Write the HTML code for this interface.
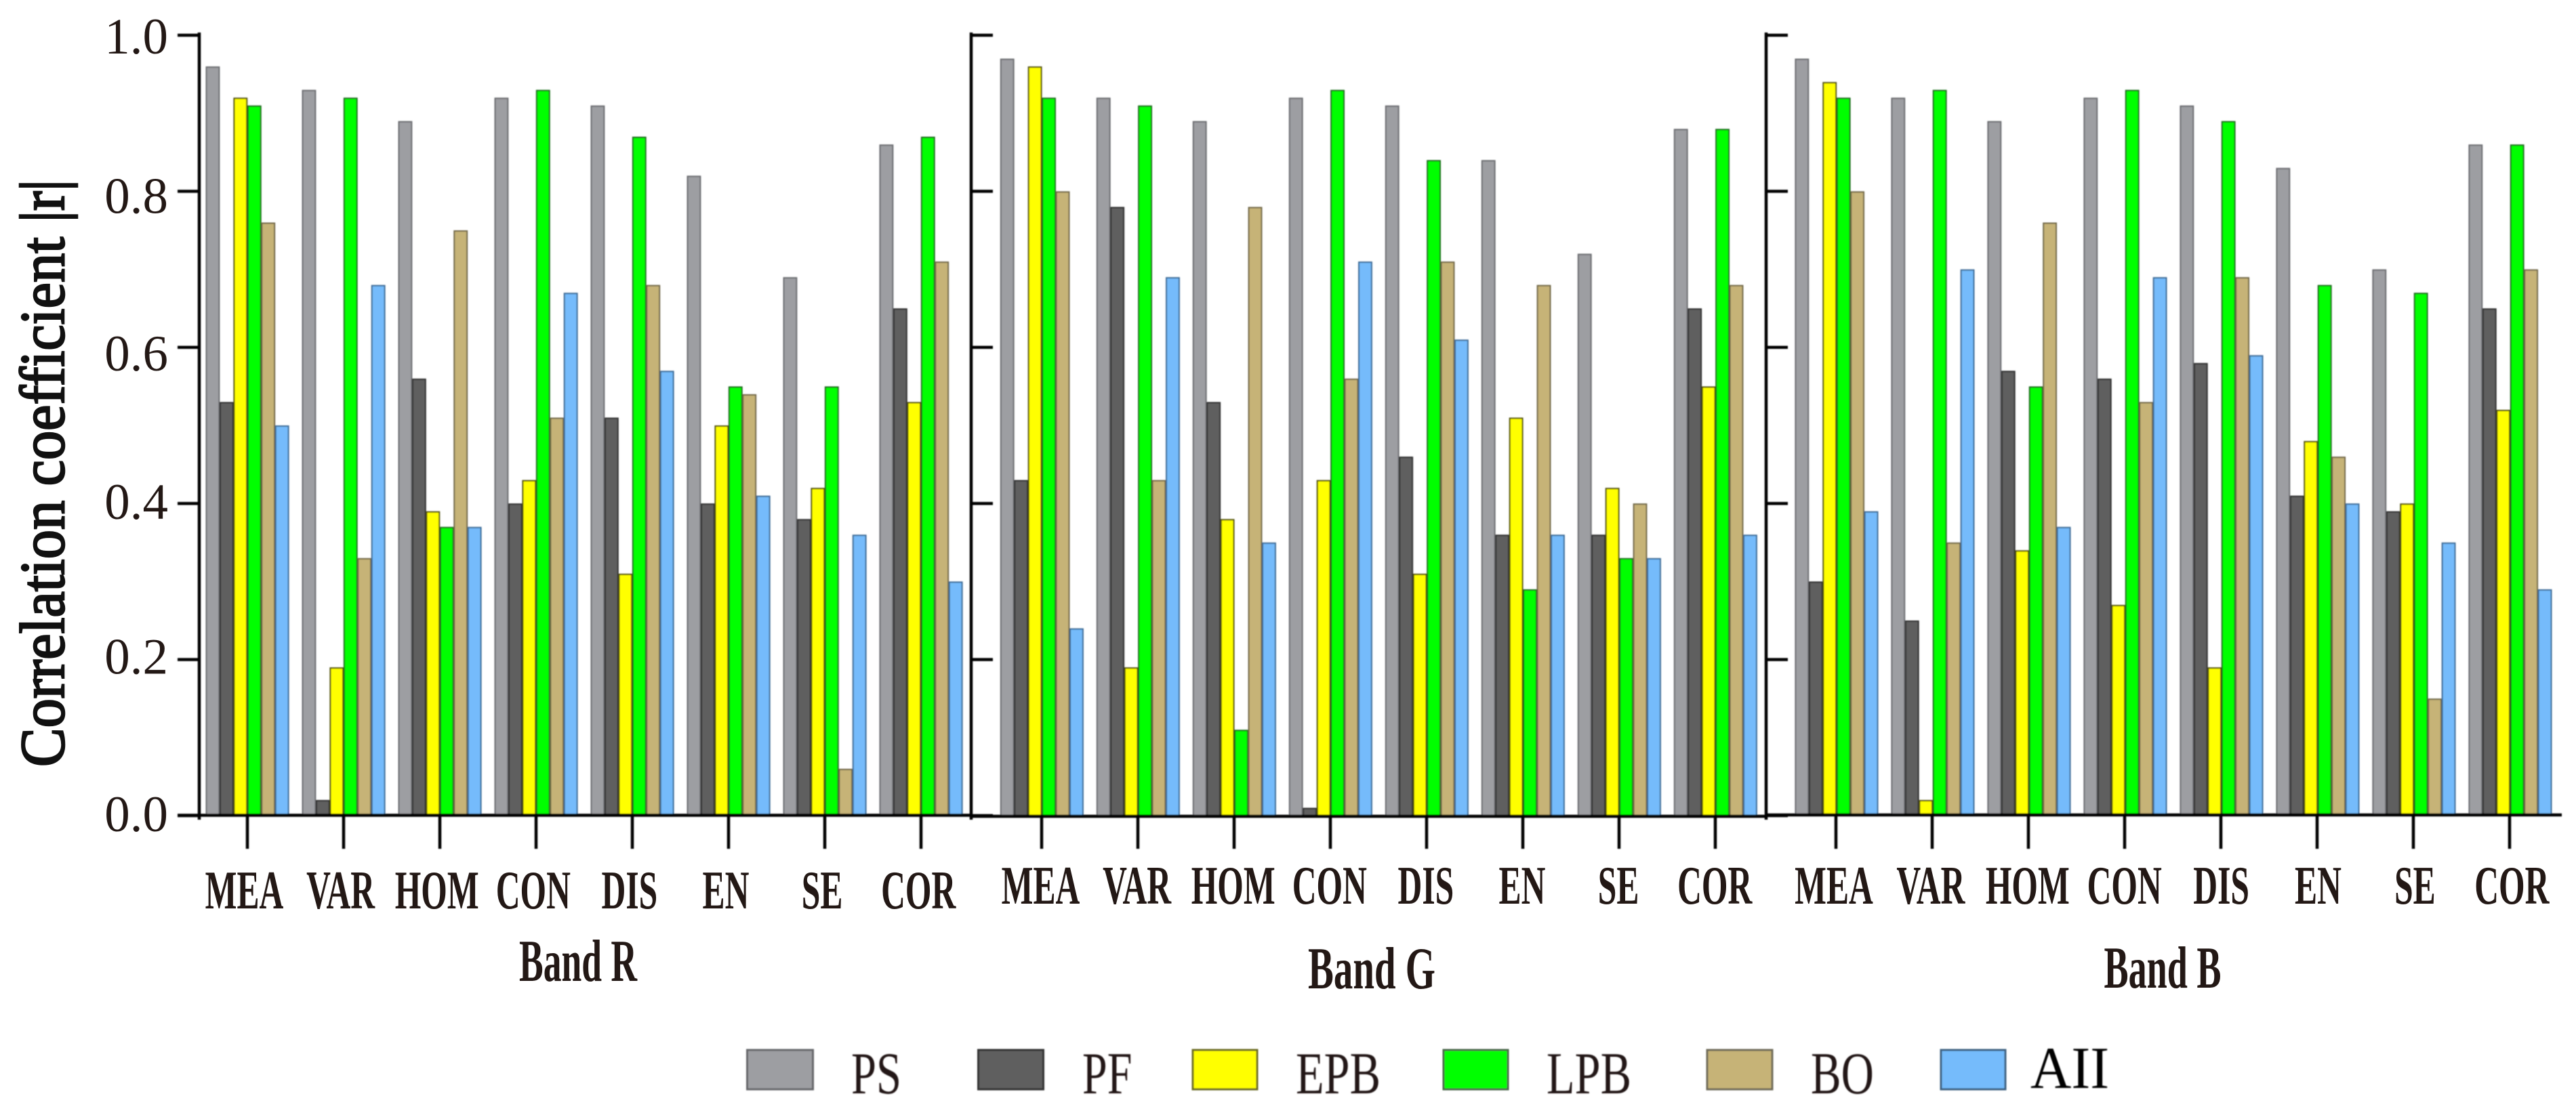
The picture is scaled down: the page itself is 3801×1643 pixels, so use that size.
<!DOCTYPE html>
<html lang="en">
<head>
<meta charset="utf-8">
<title>Correlation coefficient by band</title>
<style>
html,body{margin:0;padding:0;background:#fff}
svg{display:block}
text{font-family:"Liberation Serif",serif;fill:#231815}
</style>
</head>
<body>
<svg id="chart" xmlns="http://www.w3.org/2000/svg" width="3801" height="1643" viewBox="0 0 3801 1643">
<defs><filter id="soft" x="-2%" y="-2%" width="104%" height="104%"><feGaussianBlur stdDeviation="0.8"/></filter></defs>
<rect width="3801" height="1643" fill="#fff"/>
<g id="plot" filter="url(#soft)"></g>
<text transform="translate(94,1132) rotate(-90)" font-size="93" textLength="867" lengthAdjust="spacingAndGlyphs" style="fill:#111;stroke:#111;stroke-width:2.6">Correlation coefficient |r|</text>
<g filter="url(#soft)">
  <g><rect x="1102.5" y="1550" width="97" height="58" fill="#9d9ea2" stroke="#66676a" stroke-width="3"/><text transform="translate(1256,1614) scale(.756,1)" font-size="88">PS</text></g>
  <g><rect x="1443.5" y="1550" width="96" height="58" fill="#5f5f5f" stroke="#333" stroke-width="3"/><text transform="translate(1597,1614) scale(.75,1)" font-size="88">PF</text></g>
  <g><rect x="1760" y="1550" width="95" height="58" fill="#ffff00" stroke="#6b6b20" stroke-width="3"/><text transform="translate(1912,1614) scale(.775,1)" font-size="88">EPB</text></g>
  <g><rect x="2130" y="1550" width="95" height="58" fill="#00ff00" stroke="#4a664a" stroke-width="3"/><text transform="translate(2282,1614) scale(.775,1)" font-size="88">LPB</text></g>
  <g><rect x="2519" y="1550" width="96" height="58" fill="#c6b377" stroke="#6e6a58" stroke-width="3"/><text transform="translate(2672,1614) scale(.76,1)" font-size="88">BO</text></g>
  <g><rect x="2864" y="1550" width="95" height="58" fill="#75bbfb" stroke="#3d6080" stroke-width="3"/><text transform="translate(2996,1606) scale(.95,1)" font-size="88" style="fill:#000">AII</text></g>
</g>
</svg>
<script>
const categories = ['MEA','VAR','HOM','CON','DIS','EN','SE','COR'];
const seriesNames = ['PS','PF','EPB','LPB','BO','AII'];
const yTickValues = [0,0.2,0.4,0.6,0.8,1.0];
const yTickLabels = ['0.0','0.2','0.4','0.6','0.8','1.0'];

const bandRPS  = [0.96,0.93,0.89,0.92,0.91,0.82,0.69,0.86];
const bandRPF  = [0.53,0.02,0.56,0.40,0.51,0.40,0.38,0.65];
const bandREPB = [0.92,0.19,0.39,0.43,0.31,0.50,0.42,0.53];
const bandRLPB = [0.91,0.92,0.37,0.93,0.87,0.55,0.55,0.87];
const bandRBO  = [0.76,0.33,0.75,0.51,0.68,0.54,0.06,0.71];
const bandRAII = [0.50,0.68,0.37,0.67,0.57,0.41,0.36,0.30];

const bandGPS  = [0.97,0.92,0.89,0.92,0.91,0.84,0.72,0.88];
const bandGPF  = [0.43,0.78,0.53,0.01,0.46,0.36,0.36,0.65];
const bandGEPB = [0.96,0.19,0.38,0.43,0.31,0.51,0.42,0.55];
const bandGLPB = [0.92,0.91,0.11,0.93,0.84,0.29,0.33,0.88];
const bandGBO  = [0.80,0.43,0.78,0.56,0.71,0.68,0.40,0.68];
const bandGAII = [0.24,0.69,0.35,0.71,0.61,0.36,0.33,0.36];

const bandBPS  = [0.97,0.92,0.89,0.92,0.91,0.83,0.70,0.86];
const bandBPF  = [0.30,0.25,0.57,0.56,0.58,0.41,0.39,0.65];
const bandBEPB = [0.94,0.02,0.34,0.27,0.19,0.48,0.40,0.52];
const bandBLPB = [0.92,0.93,0.55,0.93,0.89,0.68,0.67,0.86];
const bandBBO  = [0.80,0.35,0.76,0.53,0.69,0.46,0.15,0.70];
const bandBAII = [0.39,0.70,0.37,0.69,0.59,0.40,0.35,0.29];

const seriesFill = ['#9d9ea2','#5f5f5f','#ffff00','#00ff00','#c6b377','#75bbfb'];
const seriesStroke = ['#6b6c70','#2e2e2e','#4f4f10','#1f6a1f','#6f6646','#3d6a95'];

const panels = [
  {name:'Band R', key:'band-r', values:[bandRPS,bandRPF,bandREPB,bandRLPB,bandRBO,bandRAII],
   axisX:294, axisEnd:1433, lineY:1203.5, firstBar:303.5, firstTick:365, labelFirst:360.5, labelStep:142.1, labelBase:1341, titleX:853, titleBase:1448, titleLen:174, tickDir:-1},
  {name:'Band G', key:'band-g', values:[bandGPS,bandGPF,bandGEPB,bandGLPB,bandGBO,bandGAII],
   axisX:1433, axisEnd:2606, lineY:1205, firstBar:1475.8, firstTick:1537, labelFirst:1535.5, labelStep:142.1, labelBase:1334, titleX:2024, titleBase:1459, titleLen:188, tickDir:1},
  {name:'Band B', key:'band-b', values:[bandBPS,bandBPF,bandBEPB,bandBLPB,bandBBO,bandBAII],
   axisX:2606, axisEnd:3780, lineY:1203, firstBar:2648.4, firstTick:2709, labelFirst:2706, labelStep:142.9, labelBase:1334, titleX:3191, titleBase:1458, titleLen:173, tickDir:1}
];

const SVGNS = 'http://www.w3.org/2000/svg';
const plot = document.getElementById('plot');
const root = document.getElementById('chart');
const Y0 = 1204, YSCALE = 1152, GROUP_STEP = 142, BAR_W = 20.45;
const yLabelDrop = [23,21,23,34,32,27];
function yPos(v){ return Y0 - v * YSCALE; }
function barX(panel, c, s){ return panel.firstBar + c * GROUP_STEP + s * BAR_W; }
function tickX(panel, c){ return panel.firstTick + c * GROUP_STEP; }
function make(tag, attrs, parent){
  const el = document.createElementNS(SVGNS, tag);
  for (const k in attrs) el.setAttribute(k, attrs[k]);
  parent.appendChild(el);
  return el;
}

panels.forEach(function(panel){
  // bars
  panel.values.forEach(function(vals, s){
    vals.forEach(function(v, c){
      const top = yPos(v);
      const bar = make('rect', {x:barX(panel,c,s)+1, y:top+1, width:BAR_W-1.6, height:Y0-top-1, fill:seriesFill[s], stroke:seriesStroke[s], 'stroke-width':2}, plot);
      
      
    });
  });
  // y axis line
  const yAxis = make('line', {x1:panel.axisX, x2:panel.axisX, y1:48, y2:1210, stroke:'#000', 'stroke-width':4.5}, plot);
  
  
  // x axis line
  const xStart = panel.tickDir < 0 ? panel.axisX - 32 : panel.axisX;
  const xAxis = make('line', {x1:xStart, x2:panel.axisEnd, y1:panel.lineY, y2:panel.lineY, stroke:'#000', 'stroke-width':4.5}, plot);
  
  
  // y ticks
  yTickValues.forEach(function(v, i){
    const y = yPos(v);
    const t = make('line', {x1:panel.axisX, x2:panel.axisX + panel.tickDir * 32, y1:y, y2:y, stroke:'#000', 'stroke-width':4.5}, plot);
    
    
    if (panel.tickDir < 0) {
      const lab = make('text', {x:248, y:y + yLabelDrop[i], 'text-anchor':'end', 'font-size':75}, root);
      lab.textContent = yTickLabels[i];
      
      
    }
  });
  // x ticks and labels
  categories.forEach(function(cat, c){
    const x = tickX(panel, c);
    const t = make('line', {x1:x, x2:x, y1:panel.lineY, y2:1253, stroke:'#000', 'stroke-width':4.5}, plot);
    
    
    const cx = panel.labelFirst + c * panel.labelStep;
    const lab = make('text', {transform:'translate(' + cx + ',' + panel.labelBase + ') scale(.62,1)', 'text-anchor':'middle', 'font-size':80, 'font-weight':'bold'}, root);
    lab.textContent = cat;
    
    
  });
  // panel title
  const title = make('text', {x:panel.titleX - panel.titleLen / 2, y:panel.titleBase, 'font-size':88, 'font-weight':'bold', textLength:panel.titleLen, lengthAdjust:'spacingAndGlyphs'}, root);
  title.textContent = panel.name;
  
  
});
</script>
</body>
</html>
